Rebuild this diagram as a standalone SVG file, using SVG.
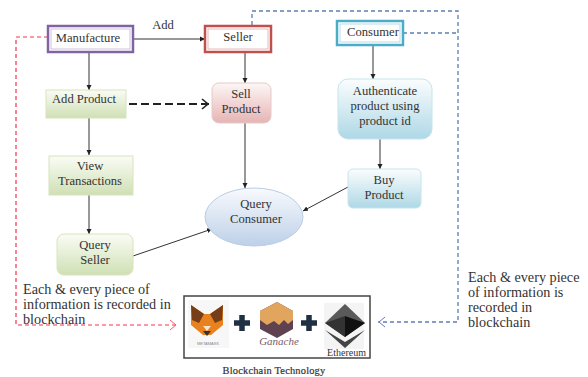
<svg xmlns="http://www.w3.org/2000/svg" width="588" height="377" viewBox="0 0 588 377">
<style>
text{font-family:"Liberation Serif",serif;font-size:12.6px;fill:#333;text-anchor:middle}
.l{text-anchor:start;font-size:14.2px}
.c{fill:none;stroke:#333;stroke-width:1}
.r{fill:none;stroke:#f5334f;stroke-width:1.2;stroke-dasharray:4 3}
.b{fill:none;stroke:#5f7db3;stroke-width:1.3;stroke-dasharray:4 3}
</style>
<defs>
<marker id="a" markerWidth="6" markerHeight="6" refX="5" refY="3" orient="auto"><path d="M0 0.500L5 3L0 5.500z" fill="#222"/></marker>
<marker id="o" markerWidth="9" markerHeight="12" refX="8" refY="6" orient="auto" markerUnits="userSpaceOnUse"><path d="M1 1L7 6L1 11" fill="none" stroke="#222" stroke-width="1.6"/></marker>
<marker id="or" markerWidth="9" markerHeight="12" refX="8" refY="6" orient="auto" markerUnits="userSpaceOnUse"><path d="M1 1L7 6L1 11" fill="none" stroke="#f0606f" stroke-width="1"/></marker>
<marker id="ob" markerWidth="9" markerHeight="12" refX="8" refY="6" orient="auto" markerUnits="userSpaceOnUse"><path d="M1 1L7 6L1 11" fill="none" stroke="#6a78c8" stroke-width="1"/></marker>
<linearGradient id="g" x1="0" y1="0" x2="0" y2="1"><stop offset="0" stop-color="#fafcf6"/><stop offset="1" stop-color="#cfe0b4"/></linearGradient>
<linearGradient id="p" x1="0" y1="0" x2="0" y2="1"><stop offset="0" stop-color="#fdf6f6"/><stop offset="1" stop-color="#e6b4b4"/></linearGradient>
<linearGradient id="t" x1="0" y1="0" x2="0" y2="1"><stop offset="0" stop-color="#fbfdfe"/><stop offset="1" stop-color="#aed8e6"/></linearGradient>
<linearGradient id="e" x1="0" y1="0" x2="0" y2="1"><stop offset="0" stop-color="#f8fafd"/><stop offset="1" stop-color="#bdd0e8"/></linearGradient>
</defs>
<g id="connectors">
<path class="c" d="M133 39H205" marker-end="url(#a)"/>
<path class="c" d="M89 52V90" marker-end="url(#a)"/>
<path class="c" d="M89 118V155" marker-end="url(#a)"/>
<path class="c" d="M89 195V234" marker-end="url(#a)"/>
<path class="c" d="M245 52V83" marker-end="url(#a)"/>
<path class="c" d="M245 123V188" marker-end="url(#a)"/>
<path class="c" d="M373 45V79" marker-end="url(#a)"/>
<path class="c" d="M380 139V169" marker-end="url(#a)"/>
<path class="c" d="M348 187L303 211" marker-end="url(#a)"/>
<path class="c" d="M133 256L212 229" marker-end="url(#a)"/>
<path d="M129 104H209" fill="none" stroke="#222" stroke-width="1.8" stroke-dasharray="8 4" marker-end="url(#o)"/>
<path class="r" d="M48 37H16V325H177" marker-end="url(#or)"/>
<path class="b" d="M252 25V11H458V322H378" marker-end="url(#ob)"/>
<path class="b" d="M403 33H458"/>
</g>
<g id="manufacture"><rect x="48" y="26" width="85" height="26" fill="#fff" stroke="#8064a2" stroke-width="2.500"/><rect x="51" y="29" width="79" height="20" fill="none" stroke="#cfc3de"/><text x="88" y="42">Manufacture</text></g>
<g id="seller"><rect x="205" y="26" width="66" height="26" fill="#fff" stroke="#c0504d" stroke-width="2.500"/><rect x="208" y="29" width="60" height="20" fill="none" stroke="#e6b8b7"/><text x="238" y="41">Seller</text></g>
<g id="consumer"><rect x="337" y="21" width="66" height="24" fill="#fff" stroke="#4bacc6" stroke-width="2.500"/><rect x="340" y="24" width="60" height="18" fill="none" stroke="#b6dde8"/><text x="373" y="36">Consumer</text></g>
<g id="add-product"><rect x="46" y="90" width="80" height="28" fill="url(#g)" stroke="#d7e4bd"/><text x="84" y="103">Add Product</text></g>
<g id="view-transactions"><rect x="49" y="156" width="84" height="39" fill="url(#g)" stroke="#d7e4bd"/><text x="90" y="170">View</text><text x="90" y="185">Transactions</text></g>
<g id="query-seller"><rect x="57" y="234" width="76" height="41" rx="7" fill="url(#g)" stroke="#d7e4bd"/><text x="95" y="249">Query</text><text x="95" y="264">Seller</text></g>
<g id="sell-product"><rect x="212" y="83" width="59" height="40" rx="7" fill="url(#p)" stroke="#e8c8c8"/><text x="241" y="98">Sell</text><text x="241" y="113">Product</text></g>
<g id="authenticate"><rect x="338" y="79" width="94" height="60" rx="10" fill="url(#t)" stroke="#c6e4ee"/><text x="385" y="95">Authenticate</text><text x="385" y="110">product using</text><text x="385" y="125">product id</text></g>
<g id="buy-product"><rect x="348" y="169" width="73" height="39" rx="5" fill="url(#t)" stroke="#c6e4ee"/><text x="384" y="184">Buy</text><text x="384" y="199">Product</text></g>
<g id="query-consumer"><ellipse cx="254" cy="217" rx="49" ry="29" fill="url(#e)" stroke="#b9cde5"/><text x="256" y="208">Query</text><text x="256" y="223">Consumer</text></g>
<g id="blockchain">
<rect x="184" y="296" width="186" height="62" fill="#fff" stroke="#444" stroke-width="1.500"/>
<rect x="188" y="300" width="41" height="48" fill="#f7f7f7"/>
<path d="M191 305L204 314H210L223 305L223 325L211 335H203L191 325Z" fill="#e8821e"/>
<path d="M191 305L204 314L199 323L192 320ZM223 305L210 314L215 323L222 320Z" fill="#763d16"/>
<path d="M203 331H211L207 336Z" fill="#333"/><path d="M203 326H211L207 331Z" fill="#f6e4cf"/>
<text x="208" y="345" style="font-size:4px;font-family:'Liberation Sans',sans-serif;fill:#888">METAMASK</text>
<path d="M234 323H250M242 315V331" stroke="#1f3044" stroke-width="5.500" fill="none"/>
<path d="M277 302L293 311V329L277 338L260 329V311Z" fill="#5e4250"/>
<path d="M277 302L293 311V320L288 324L284 320L279 325L274 321L267 325L260 320V311Z" fill="#e2a55e"/>
<text x="279" y="345" style="font-size:11px;font-style:italic;fill:#7a5a66">Ganache</text>
<path d="M301 323H317M309 315V331" stroke="#1f3044" stroke-width="5.500" fill="none"/>
<rect x="324" y="303" width="40" height="46" fill="#f4f4f4"/>
<path d="M345 304L365 323L345 337L325 323Z" fill="#5a5a5a"/>
<path d="M345 316L365 323L345 337Z" fill="#111"/><path d="M325 323L345 316V337Z" fill="#333"/>
<path d="M325 330L345 342L365 330L345 348Z" fill="#444"/>
<text x="346.500" y="356" style="font-size:10px">Ethereum</text>
</g>
<text x="274" y="374" style="font-size:10.400px;letter-spacing:.2px;stroke:#333;stroke-width:.2">Blockchain Technology</text>
<g id="labels">
<text x="163" y="29" style="font-size:12.600px">Add</text>
<text class="l" x="23" y="294">Each &amp; every piece of</text>
<text class="l" x="23" y="309">information is recorded in</text>
<text class="l" x="23" y="324">blockchain</text>
<text class="l" x="468" y="282">Each &amp; every piece</text>
<text class="l" x="468" y="297">of information is</text>
<text class="l" x="468" y="312">recorded in</text>
<text class="l" x="468" y="327">blockchain</text>
</g>
</svg>
